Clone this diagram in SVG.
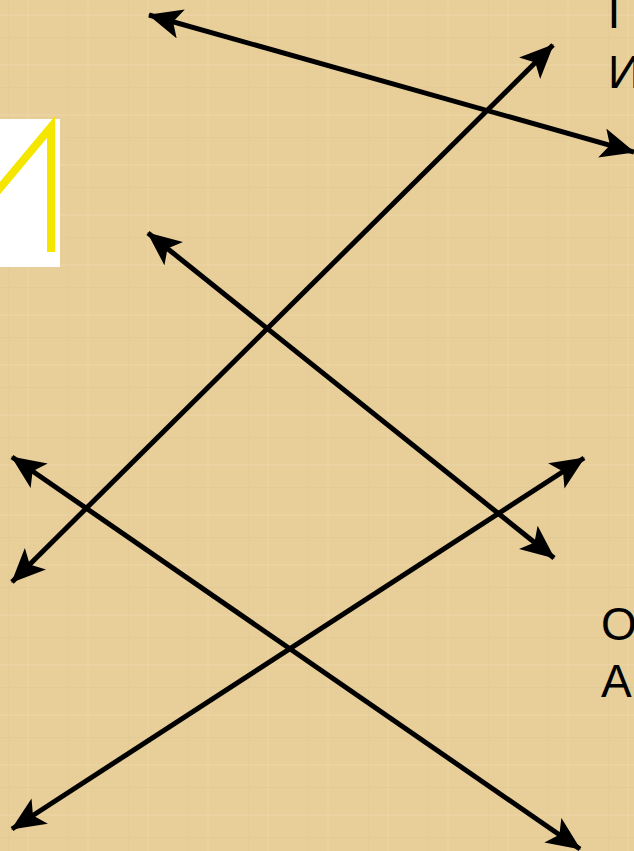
<svg xmlns="http://www.w3.org/2000/svg" width="634" height="851" viewBox="0 0 634 851">
<defs>
<pattern id="paper" x="0" y="0" width="60" height="50" patternUnits="userSpaceOnUse">
<rect width="60" height="50" fill="#E8CF9A"/>
<rect x="0" y="14" width="60" height="2" fill="#EDD8A8" opacity="0.5"/>
<rect x="27" y="0" width="2" height="50" fill="#EDD8A8" opacity="0.4"/>
<rect x="0" y="37" width="60" height="1" fill="#DFC48E" opacity="0.4"/>
<rect x="8" y="0" width="1" height="50" fill="#DFC48E" opacity="0.35"/>
</pattern>
<marker id="ah" viewBox="0 0 34 30" refX="33" refY="15" markerWidth="34" markerHeight="30" markerUnits="userSpaceOnUse" orient="auto-start-reverse">
<path d="M0,0 L34,15 L0,30 L8,15 Z" fill="#000"/>
</marker>
<style>
.ln{stroke:#000;stroke-width:5;fill:none;marker-start:url(#ah);marker-end:url(#ah)}
.t{font-family:"Liberation Sans",Arial,sans-serif;font-size:46px;fill:#000}
</style>
</defs>
<rect width="634" height="851" fill="url(#paper)"/>
<g id="letterbox">
<rect x="0" y="119" width="60" height="148" fill="#FFFFFF"/>
<path d="M-10,200 L51,127 L51,252" stroke="#F5E600" stroke-width="8" fill="none"/>
</g>
<g id="labels">
<text class="t" x="608" y="28">Г</text>
<text class="t" x="608" y="88">И</text>
<text class="t" x="601" y="640">О</text>
<text class="t" x="601" y="697">А</text>
</g>
<g id="connectors">
<line class="ln" x1="149" y1="15" x2="634" y2="152"/>
<line class="ln" x1="12" y1="582" x2="553" y2="45"/>
<line class="ln" x1="148" y1="233" x2="554" y2="558"/>
<line class="ln" x1="12" y1="457" x2="580" y2="849"/>
<line class="ln" x1="12" y1="829" x2="584" y2="458"/>
</g>
</svg>
